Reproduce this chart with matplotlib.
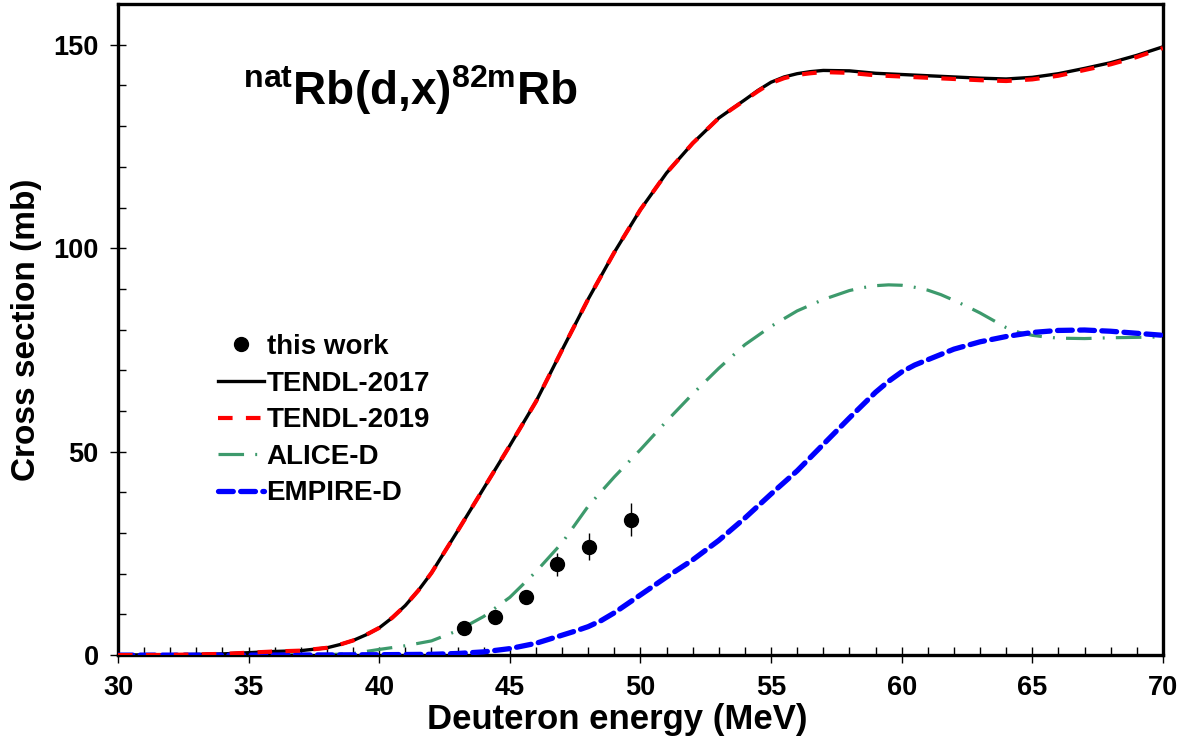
import numpy as np
import matplotlib
matplotlib.use('Agg')
import matplotlib.pyplot as plt
from matplotlib.ticker import MultipleLocator

plt.rcParams['font.family'] = ['Liberation Sans', 'DejaVu Sans']
plt.rcParams['font.weight'] = 'bold'
plt.rcParams['mathtext.fontset'] = 'custom'
plt.rcParams['mathtext.bf'] = 'Liberation Sans:bold'
plt.rcParams['mathtext.rm'] = 'Liberation Sans:bold'

# Measured data (this work)
exp_energy = [43.26, 44.44, 45.63, 46.82, 48.04, 49.62]
exp_xs = [6.6, 9.4, 14.4, 22.3, 26.6, 33.3]
exp_err = [0.8, 1.0, 1.4, 2.8, 3.3, 4.0]

# TENDL-2017
tendl17_energy = [30, 32, 34, 35, 36, 37, 38, 38.5, 39, 39.5, 40, 40.5, 41, 41.5, 42, 43, 44,
                  45, 46, 47, 48, 49, 50, 51, 52, 53, 54, 54.5, 55, 55.5, 56, 56.5, 57, 58,
                  59, 60, 61, 62, 63, 64, 65, 66, 67, 68, 69, 70]
tendl17_xs = [0, 0.05, 0.3, 0.6, 0.9, 1.1, 1.8, 2.6, 3.6, 5.0, 6.7, 9.2, 12.2, 15.9, 20.2,
              30.5, 41.0, 51.5, 62.3, 75.0, 87.5, 99.0, 109.5, 118.5, 125.8, 132.0, 136.5,
              138.8, 140.8, 142.1, 142.9, 143.4, 143.7, 143.6, 143.0, 142.7, 142.4, 142.1,
              141.8, 141.6, 142.0, 142.9, 144.2, 145.6, 147.4, 149.5]

# TENDL-2019
tendl19_energy = tendl17_energy
tendl19_xs = [0, 0.05, 0.3, 0.6, 0.9, 1.1, 1.8, 2.6, 3.6, 5.0, 6.7, 9.2, 12.2, 15.9, 20.2,
              30.5, 41.0, 51.5, 62.3, 75.0, 87.5, 99.0, 109.5, 118.5, 125.8, 132.0, 136.4,
              138.6, 140.6, 141.8, 142.6, 143.0, 143.3, 143.1, 142.5, 142.2, 141.9, 141.6,
              141.3, 141.1, 141.5, 142.4, 143.8, 145.2, 147.0, 149.2]

# ALICE-D
alice_energy = [30, 35, 38, 39, 40, 41, 42, 43, 44, 45, 46, 47, 48, 49, 50, 51, 52, 53, 54,
                55, 56, 57, 58, 58.5, 59, 59.5, 60, 60.5, 61, 61.5, 62, 62.5, 63, 63.5, 64,
                64.5, 65, 65.5, 66, 67, 68, 69, 70]
alice_xs = [0, 0, 0.1, 0.4, 1.4, 2.3, 3.5, 6.0, 9.5, 14.2, 20.5, 27.6, 36.6, 43.8, 50.5, 57.5,
            64.2, 70.5, 76.3, 80.8, 84.6, 87.4, 89.6, 90.3, 90.8, 91.0, 90.9, 90.4, 89.7,
            88.6, 87.2, 85.7, 84.1, 82.3, 80.5, 79.3, 78.6, 78.2, 77.9, 77.8, 78.0, 78.1,
            78.2]

# EMPIRE-D
empire_energy = [30, 35, 38, 40, 42, 43, 44, 45, 46, 47, 47.5, 48, 48.5, 49, 50, 51, 52, 53,
                 54, 55, 56, 57, 58, 59, 59.5, 60, 60.5, 61, 62, 63, 64, 65, 66, 67, 68, 69,
                 70]
empire_xs = [0, 0, 0.05, 0.1, 0.2, 0.4, 0.8, 1.6, 2.9, 4.9, 5.9, 7.0, 8.5, 10.4, 14.8, 19.2,
             23.4, 28.2, 33.7, 39.6, 45.3, 51.8, 58.3, 64.6, 67.3, 69.6, 71.3, 72.6, 75.2,
             77.0, 78.3, 79.3, 79.8, 79.9, 79.6, 79.1, 78.6]

fig = plt.figure(figsize=(11.86, 7.47), dpi=100)
ax = fig.add_axes([0.0995, 0.123, 0.881, 0.8715])

ax.errorbar(exp_energy, exp_xs, yerr=exp_err, fmt='none', ecolor='black',
            elinewidth=1, capsize=0, zorder=5)
h_exp, = ax.plot(exp_energy, exp_xs, 'o', color='black', markersize=10, zorder=6)
h17, = ax.plot(tendl17_energy, tendl17_xs, color='black', lw=2.4, zorder=3)
h19, = ax.plot(tendl19_energy, tendl19_xs, color='red', lw=3.0, dashes=(3.5, 3.2), zorder=4)
h_al, = ax.plot(alice_energy, alice_xs, color='#3d9a6c', lw=2.3, dashes=(8, 3.5, 0.6, 3.5),
                zorder=2)
h_em, = ax.plot(empire_energy, empire_xs, color='blue', lw=3.8, dashes=(2.8, 1.4),
                dash_capstyle='round', zorder=3)

ax.set_xlim(30, 70)
ax.set_ylim(0, 160)
ax.xaxis.set_major_locator(MultipleLocator(5))
ax.xaxis.set_minor_locator(MultipleLocator(1))
ax.yaxis.set_major_locator(MultipleLocator(50))
ax.yaxis.set_minor_locator(MultipleLocator(10))
ax.tick_params(which='major', direction='inout', length=12, width=1, labelsize=19.5, pad=8)
ax.tick_params(which='minor', direction='in', length=6, width=1)
ax.set_yticks([0, 50, 100, 150])
for spine in ax.spines.values():
    spine.set_linewidth(2.4)

ax.set_xlabel('Deuteron energy (MeV)', fontsize=25, fontweight='bold')
ax.xaxis.set_label_coords(0.478, -0.073)
ax.set_ylabel('Cross section (mb)', fontsize=24, fontweight='bold', labelpad=8)

ax.text(0.12, 0.868, r'$^{\mathbf{nat}}\mathbf{Rb(d{,}x)}^{\mathbf{82m}}\mathbf{Rb}$',
        transform=ax.transAxes, fontsize=33, ha='left', va='center')

ax.legend([h_exp, h17, h19, h_al, h_em],
          ['this work', 'TENDL-2017', 'TENDL-2019', 'ALICE-D', 'EMPIRE-D'],
          loc='upper left', bbox_to_anchor=(0.085, 0.51), frameon=False, fontsize=20,
          handlelength=1.65, handletextpad=0.1, labelspacing=0.38, borderaxespad=0)

fig.savefig('out.png', dpi=100)
